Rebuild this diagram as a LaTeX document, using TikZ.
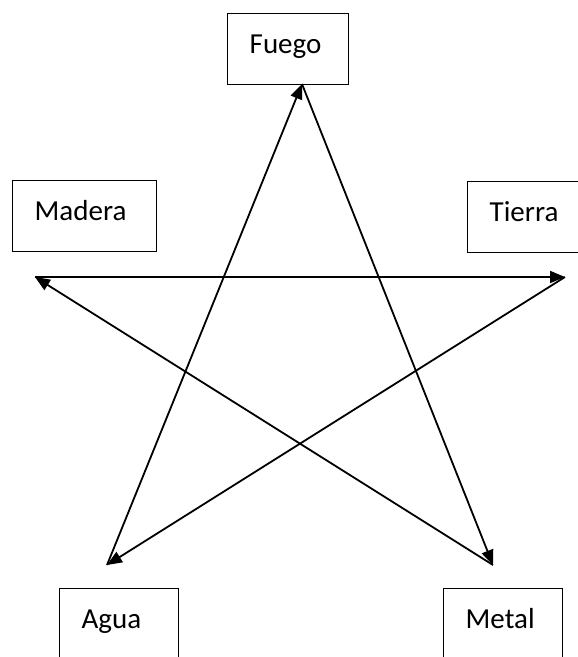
\documentclass[tikz,border=0pt]{standalone}
\usepackage{fontspec}
\setmainfont{Carlito}
\usetikzlibrary{arrows.meta}

\begin{document}
\begin{tikzpicture}[x=1pt, y=-1pt,
  element/.style={draw, line width=1.4pt, anchor=north west, align=left, inner xsep=22pt,
    minimum height=71pt, text height=16pt, text depth=8pt, font=\fontsize{29}{34}\selectfont},
  flow/.style={line width=1.8pt, -{Triangle[length=15pt, width=12pt]}}]
\clip (0,0) rectangle (578,657);

\node[element, text width=77pt] (fuego) at (227,13) {Fuego};
\node[element, text width=100pt] (madera) at (12,180) {Madera};
\node[element, text width=100pt] (tierra) at (467,181) {Tierra};
\node[element, text width=75pt] (agua) at (59,588) {Agua};
\node[element, text width=75pt] (metal) at (443,588) {Metal};

\coordinate (pF) at (302,84);
\coordinate (pMd) at (35,277);
\coordinate (pT) at (565,277);
\coordinate (pA) at (107,565);
\coordinate (pMt) at (493,565);

\draw[flow] (pMd) -- (pT);
\draw[flow] (pT) -- (pA);
\draw[flow] (pA) -- (pF);
\draw[flow] (pF) -- (pMt);
\draw[flow] (pMt) -- (pMd);
\end{tikzpicture}
\end{document}
